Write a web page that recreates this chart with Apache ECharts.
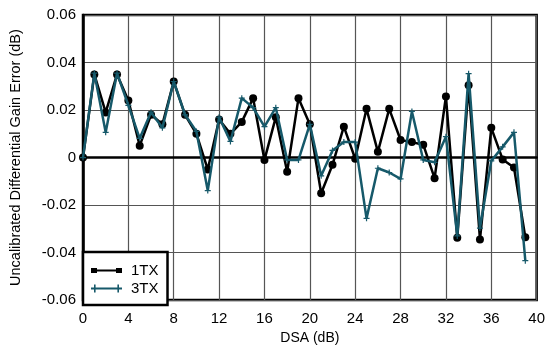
<!DOCTYPE html>
<html><head><meta charset="utf-8">
<script src="https://cdn.jsdelivr.net/npm/echarts@6/dist/echarts.min.js"></script>
<style>html,body{margin:0;padding:0;background:#fff}#c{width:548px;height:350px}</style>
</head><body><div id="c"></div>
<script>
const dsa = [0,1,2,3,4,5,6,7,8,9,10,11,12,13,14,15,16,17,18,19,20,21,22,23,24,25,26,27,28,29,30,31,32,33,34,35,36,37,38,39];
const tx1 = [0,0.035,0.019,0.035,0.024,0.005,0.018,0.014,0.032,0.018,0.010,-0.005,0.016,0.010,0.015,0.025,-0.001,0.017,-0.006,0.025,0.014,-0.015,-0.003,0.013,-0.0005,0.0205,0.0024,0.0205,0.0074,0.0065,0.0054,-0.0087,0.0257,-0.0338,0.0304,-0.0345,0.0125,-0.0008,-0.0042,-0.0335];
const tx3 = [0,0.0355,0.0106,0.0355,0.022,0.0081,0.0191,0.0125,0.032,0.018,0.011,-0.0139,0.017,0.0068,0.025,0.021,0.013,0.021,-0.001,-0.001,0.014,-0.0077,0.003,0.0065,0.0065,-0.0256,-0.0045,-0.0063,-0.009,0.0194,-0.001,-0.002,0.0088,-0.033,0.0353,-0.0297,-0.0014,0.0045,0.0106,-0.0434];
const seriesNames = ['1TX','3TX'];

const teal = '#16596a';
const plusPath = 'path://M4,0 L6,0 L6,4 L10,4 L10,6 L6,6 L6,10 L4,10 L4,6 L0,6 L0,4 L4,4 Z';
// legend icons: line with marker at both ends
const icon1 = 'path://M0,2.5 L6,2.5 L6,4 L25,4 L25,2.5 L31,2.5 L31,7.5 L25,7.5 L25,6 L6,6 L6,7.5 L0,7.5 Z';
const icon3 = 'path://M3,1 L4.6,1 L4.6,4 L26.4,4 L26.4,1 L28,1 L28,4 L31,4 L31,6 L28,6 L28,9 L26.4,9 L26.4,6 L4.6,6 L4.6,9 L3,9 L3,6 L0,6 L0,4 L3,4 Z';
const chart = echarts.init(document.getElementById('c'));
const font = 'Liberation Sans, Arial, sans-serif';
chart.setOption({
  animation:false,
  grid:{left:83,right:8,top:15,bottom:45,show:true,borderColor:'#000',borderWidth:2.5,backgroundColor:'transparent'},
  legend:{
    left:83,bottom:45,orient:'vertical',itemGap:3,itemWidth:31,itemHeight:10,
    backgroundColor:'#fff',borderColor:'#000',borderWidth:2.5,borderRadius:0,
    padding:[11,9,9,8],
    textStyle:{fontFamily:font,fontSize:15,color:'#000',padding:[0,0,0,4],lineHeight:14},
    data:[{name:seriesNames[0],icon:icon1},{name:seriesNames[1],icon:icon3}]
  },
  xAxis:{
    type:'value',min:0,max:40,interval:4,
    axisLine:{show:true,lineStyle:{color:'#000',width:2.5}},
    axisTick:{show:false},
    axisLabel:{fontFamily:font,fontSize:15,color:'#000',margin:11},
    splitLine:{show:true,lineStyle:{color:'#555',width:1.2}},
    name:'DSA (dB)',nameLocation:'middle',nameGap:28,
    nameTextStyle:{fontFamily:font,fontSize:14,color:'#000'}
  },
  yAxis:{
    type:'value',min:-0.06,max:0.06,interval:0.02,
    axisLine:{show:true,lineStyle:{color:'#000',width:2.5}},
    axisTick:{show:false},
    axisLabel:{fontFamily:font,fontSize:15,color:'#000',margin:7,
      formatter:v=>{const r=Math.round(v*100)/100; return r===0?'0':r.toFixed(2);}},
    splitLine:{show:true,lineStyle:{color:'#555',width:1.2}},
    name:'Uncalibrated Differential Gain Error (dB)',nameLocation:'middle',nameGap:60,
    nameTextStyle:{fontFamily:font,fontSize:14.5,color:'#000'}
  },
  series:[
    {name:seriesNames[0],type:'line',data:dsa.map((d,i)=>[d,tx1[i]]),
     symbol:'circle',symbolSize:8,showAllSymbol:true,
     lineStyle:{color:'#000',width:2.5},itemStyle:{color:'#000'},z:2},
    {name:seriesNames[1],type:'line',data:dsa.map((d,i)=>[d,tx3[i]]),
     symbol:plusPath,symbolSize:6,showAllSymbol:true,
     lineStyle:{color:teal,width:2.5},itemStyle:{color:teal},z:3}
  ]
});
</script></body></html>
